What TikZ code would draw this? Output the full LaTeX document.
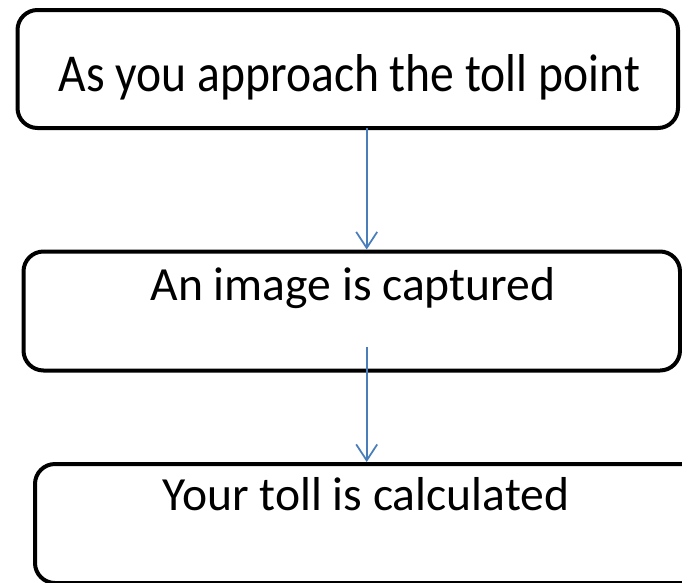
\documentclass[tikz,border=0pt]{standalone}
\usepackage{fontspec}
\setmainfont{Carlito}
\usetikzlibrary{arrows.meta}
\definecolor{arrowblue}{HTML}{4A7EBB}
\tikzset{
  flowbox/.style={draw=black, line width=4pt, rounded corners=20pt, fill=white, inner sep=0pt, outer sep=0pt},
  boxtext/.style={anchor=base, inner sep=0pt, font=\fontsize{47.6}{57}\selectfont},
  flowarrow/.style={draw=arrowblue, line width=1.75pt, -{Straight Barb[length=16pt, width=21pt, line width=1.75pt]}}
}
\begin{document}
\begin{tikzpicture}[x=1pt, y=-1pt]
\useasboundingbox (0,0) rectangle (682,582);
\clip (0,0) rectangle (682,582);
\node[flowbox, minimum width=660.5pt, minimum height=118pt] (b1) at (347.75,69) {};
\node[flowbox, minimum width=656.5pt, minimum height=119pt] (b2) at (351.75,311) {};
\node[flowbox, minimum width=680pt, minimum height=119pt] (b3) at (375,523.5) {};
\node[boxtext] (t1) at (349.5,91.5) {\scalebox{1}[1.12]{As you approach the toll point}};
\node[boxtext] (t2) at (353,300) {An image is captured};
\node[boxtext] (t3) at (366,510) {Your toll is calculated};
\coordinate (ax) at (366.7,0);
\coordinate (a2s) at (366.7,347);
\draw[flowarrow] (b1.south -| ax) -- ([yshift=2pt]b2.north -| ax);
\draw[flowarrow] (a2s) -- ([yshift=2pt]b3.north -| ax);
\end{tikzpicture}
\end{document}
